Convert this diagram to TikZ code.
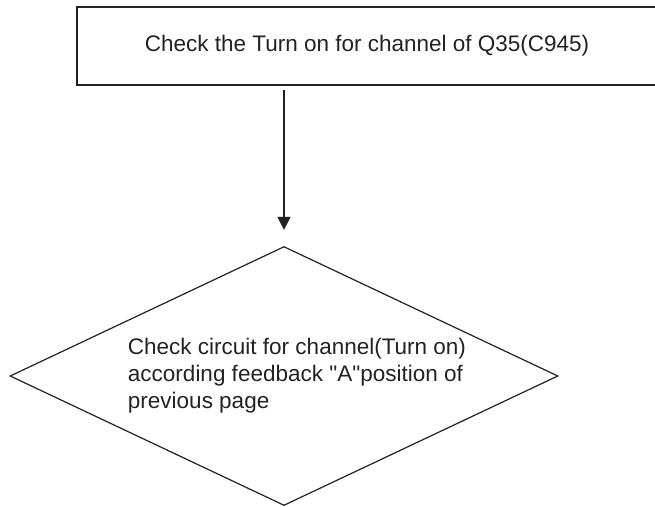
\documentclass[tikz,border=0pt]{standalone}
\usepackage{fontspec}
\setmainfont{Liberation Sans}[Ligatures=TeXOff]
\usepackage{xcolor}
\usetikzlibrary{shapes.geometric, arrows.meta, positioning, calc}
\definecolor{inkgray}{HTML}{222222}

\begin{document}
\begin{tikzpicture}[
  x=1pt, y=-1pt,
  stepbox/.style={rectangle, draw=inkgray, line width=1.3pt, minimum width=580pt, minimum height=78pt, inner sep=0pt, text=inkgray, font=\fontsize{22.5}{27}\selectfont},
  decision/.style={diamond, draw=inkgray, line width=1.2pt, minimum width=548pt, minimum height=259pt, inner sep=0pt},
  dectext/.style={align=left, inner sep=0pt, text=inkgray, font=\fontsize{22.5}{27}\selectfont},
  arrow/.style={-{Triangle[length=13pt, width=13pt]}, line width=1.3pt, draw=inkgray}
]
  \useasboundingbox (0,0) rectangle (655,506);
  \clip (0,0) rectangle (655,506);

  \node[stepbox] (check) at (367, 46) {Check the Turn on for channel of Q35(C945)};
  \node[decision] (feedback) at (284, 376) {};
  \node[dectext] (feedbacktext) at (297, 376) {Check circuit for channel(Turn on)\\according feedback "A"position of\\previous page};

  \draw[arrow] ($(check.south -| feedback.north)+(0,4)$) -- ($(feedback.north)+(0,-16)$);
\end{tikzpicture}
\end{document}
